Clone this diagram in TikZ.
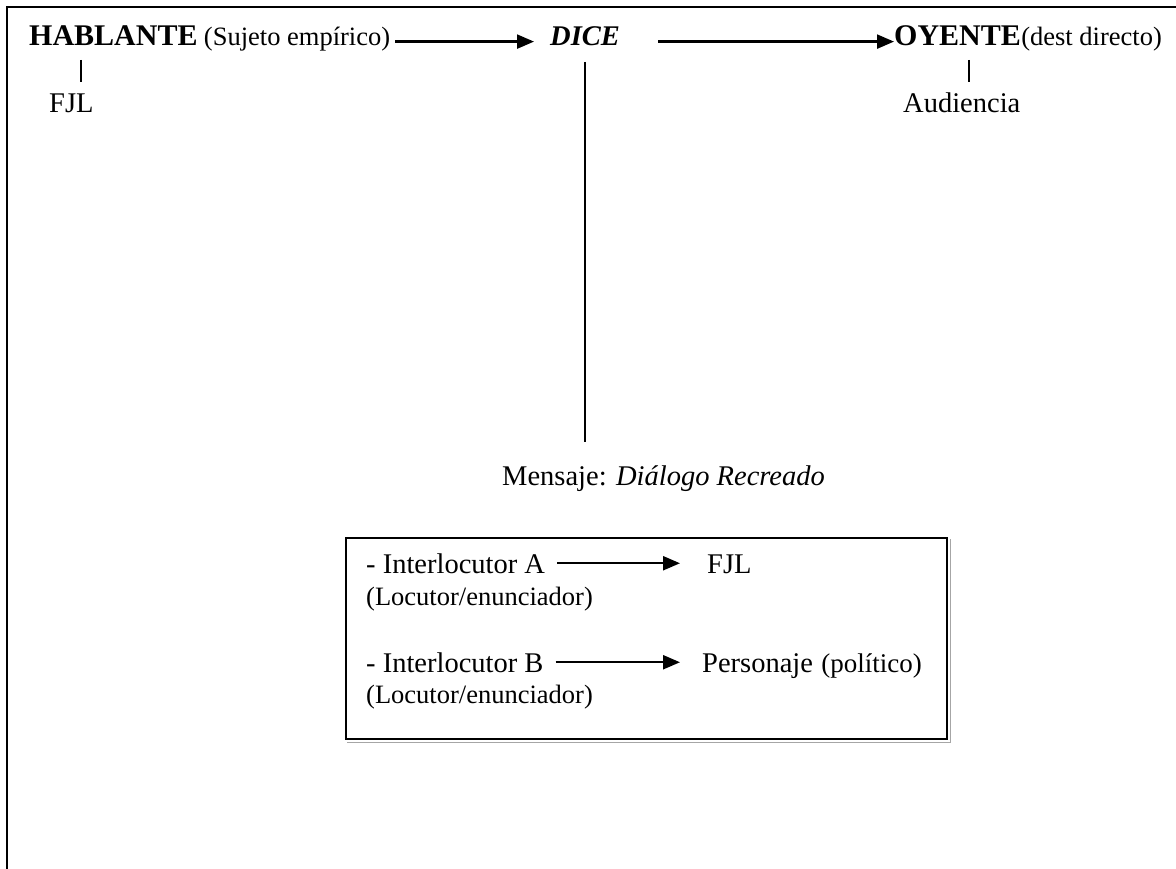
\documentclass[tikz,border=0pt]{standalone}
\usepackage{fontspec}
\setmainfont{Liberation Serif}
\usetikzlibrary{arrows.meta}
\begin{document}
\begin{tikzpicture}[x=1pt,y=-1pt,
  txt/.style={anchor=base west, inner sep=0pt, font=\fontsize{28.5}{34}\selectfont},
  head/.style={anchor=base west, inner sep=0pt, font=\fontsize{30}{36}\selectfont\bfseries},
  note/.style={anchor=base west, inner sep=0pt, font=\fontsize{26.5}{32}\selectfont},
  small/.style={anchor=base west, inner sep=0pt, font=\fontsize{27}{32}\selectfont},
  arr/.style={line width=2.3pt, -{Triangle[length=17pt,width=14pt]}},
  tick/.style={line width=1.7pt},
  frame/.style={line width=1.8pt},
  panel/.style={draw, line width=2pt, anchor=north west, inner sep=0pt}]
\useasboundingbox (0,0) rectangle (1176,869);

% open outer frame
\draw[frame] (7,869) -- (7,7) -- (1176,7);

% top row: speaker, saying, hearer
\node[head] (hab) at (29,46) {HABLANTE};
\node[note] (suj) at ([xshift=6pt]hab.base east) {(Sujeto empírico)};
\node[head, font=\fontsize{28.5}{34}\selectfont\bfseries\itshape] (dice) at (550,46) {DICE};
\node[head] (oy) at (894,46) {OYENTE};
\node[note] (dest) at (oy.base east) {(dest directo)};

\draw[arr] ([xshift=5pt,yshift=-2pt]suj.east) -- ([xshift=-16pt,yshift=-2pt]dice.west |- suj.east);
\draw[arr] ([xshift=38pt,yshift=-2pt]dice.east |- suj.east) -- ([yshift=-2pt]oy.west |- suj.east);

% second row
\node[txt] (fjl) at (49,113) {FJL};
\node[txt] (aud) at (903,113) {Audiencia};
\coordinate (habtop) at (81,60);
\coordinate (habbot) at (81,82);
\coordinate (oytop) at (969,60);
\coordinate (oybot) at (969,82);
\draw[tick] (habtop) -- (habbot);
\draw[tick] (oytop) -- (oybot);

% message line
\coordinate (dtop) at (585,62);
\coordinate (dbot) at (585,442);
\draw[tick] (dtop) -- (dbot);
\node[txt] (msg) at (502,485) {Mensaje: \textit{Diálogo Recreado}};

% dialogue panel with a faint shadow on its lower and right edges
\node[panel, minimum width=601pt, minimum height=201pt] (box) at (345,537) {};
\draw[gray!70, line width=1pt] ([xshift=2pt,yshift=-2.5pt]box.south west) -- ([xshift=2.5pt,yshift=-2.5pt]box.south east) -- ([xshift=2.5pt,yshift=-2pt]box.north east);
\node[txt] (ia) at (366,573) {- Interlocutor A};
\node[txt] (fa) at (707,573) {FJL};
\node[note] (la) at (366,605) {(Locutor/enunciador)};
\node[txt] (ib) at (366,672) {- Interlocutor B};
\node[txt] (pb) at (702,672) {Personaje};
\node[small] (pol) at ([xshift=8pt]pb.base east) {(político)};
\node[note] (lb) at (366,703) {(Locutor/enunciador)};

\draw[arr] ([xshift=12pt]ia.east) -- ([xshift=-27pt]fa.west |- ia.east);
\draw[arr] ([xshift=12pt]ib.east) -- ([xshift=-22pt]pb.west |- ib.east);
\end{tikzpicture}
\end{document}
